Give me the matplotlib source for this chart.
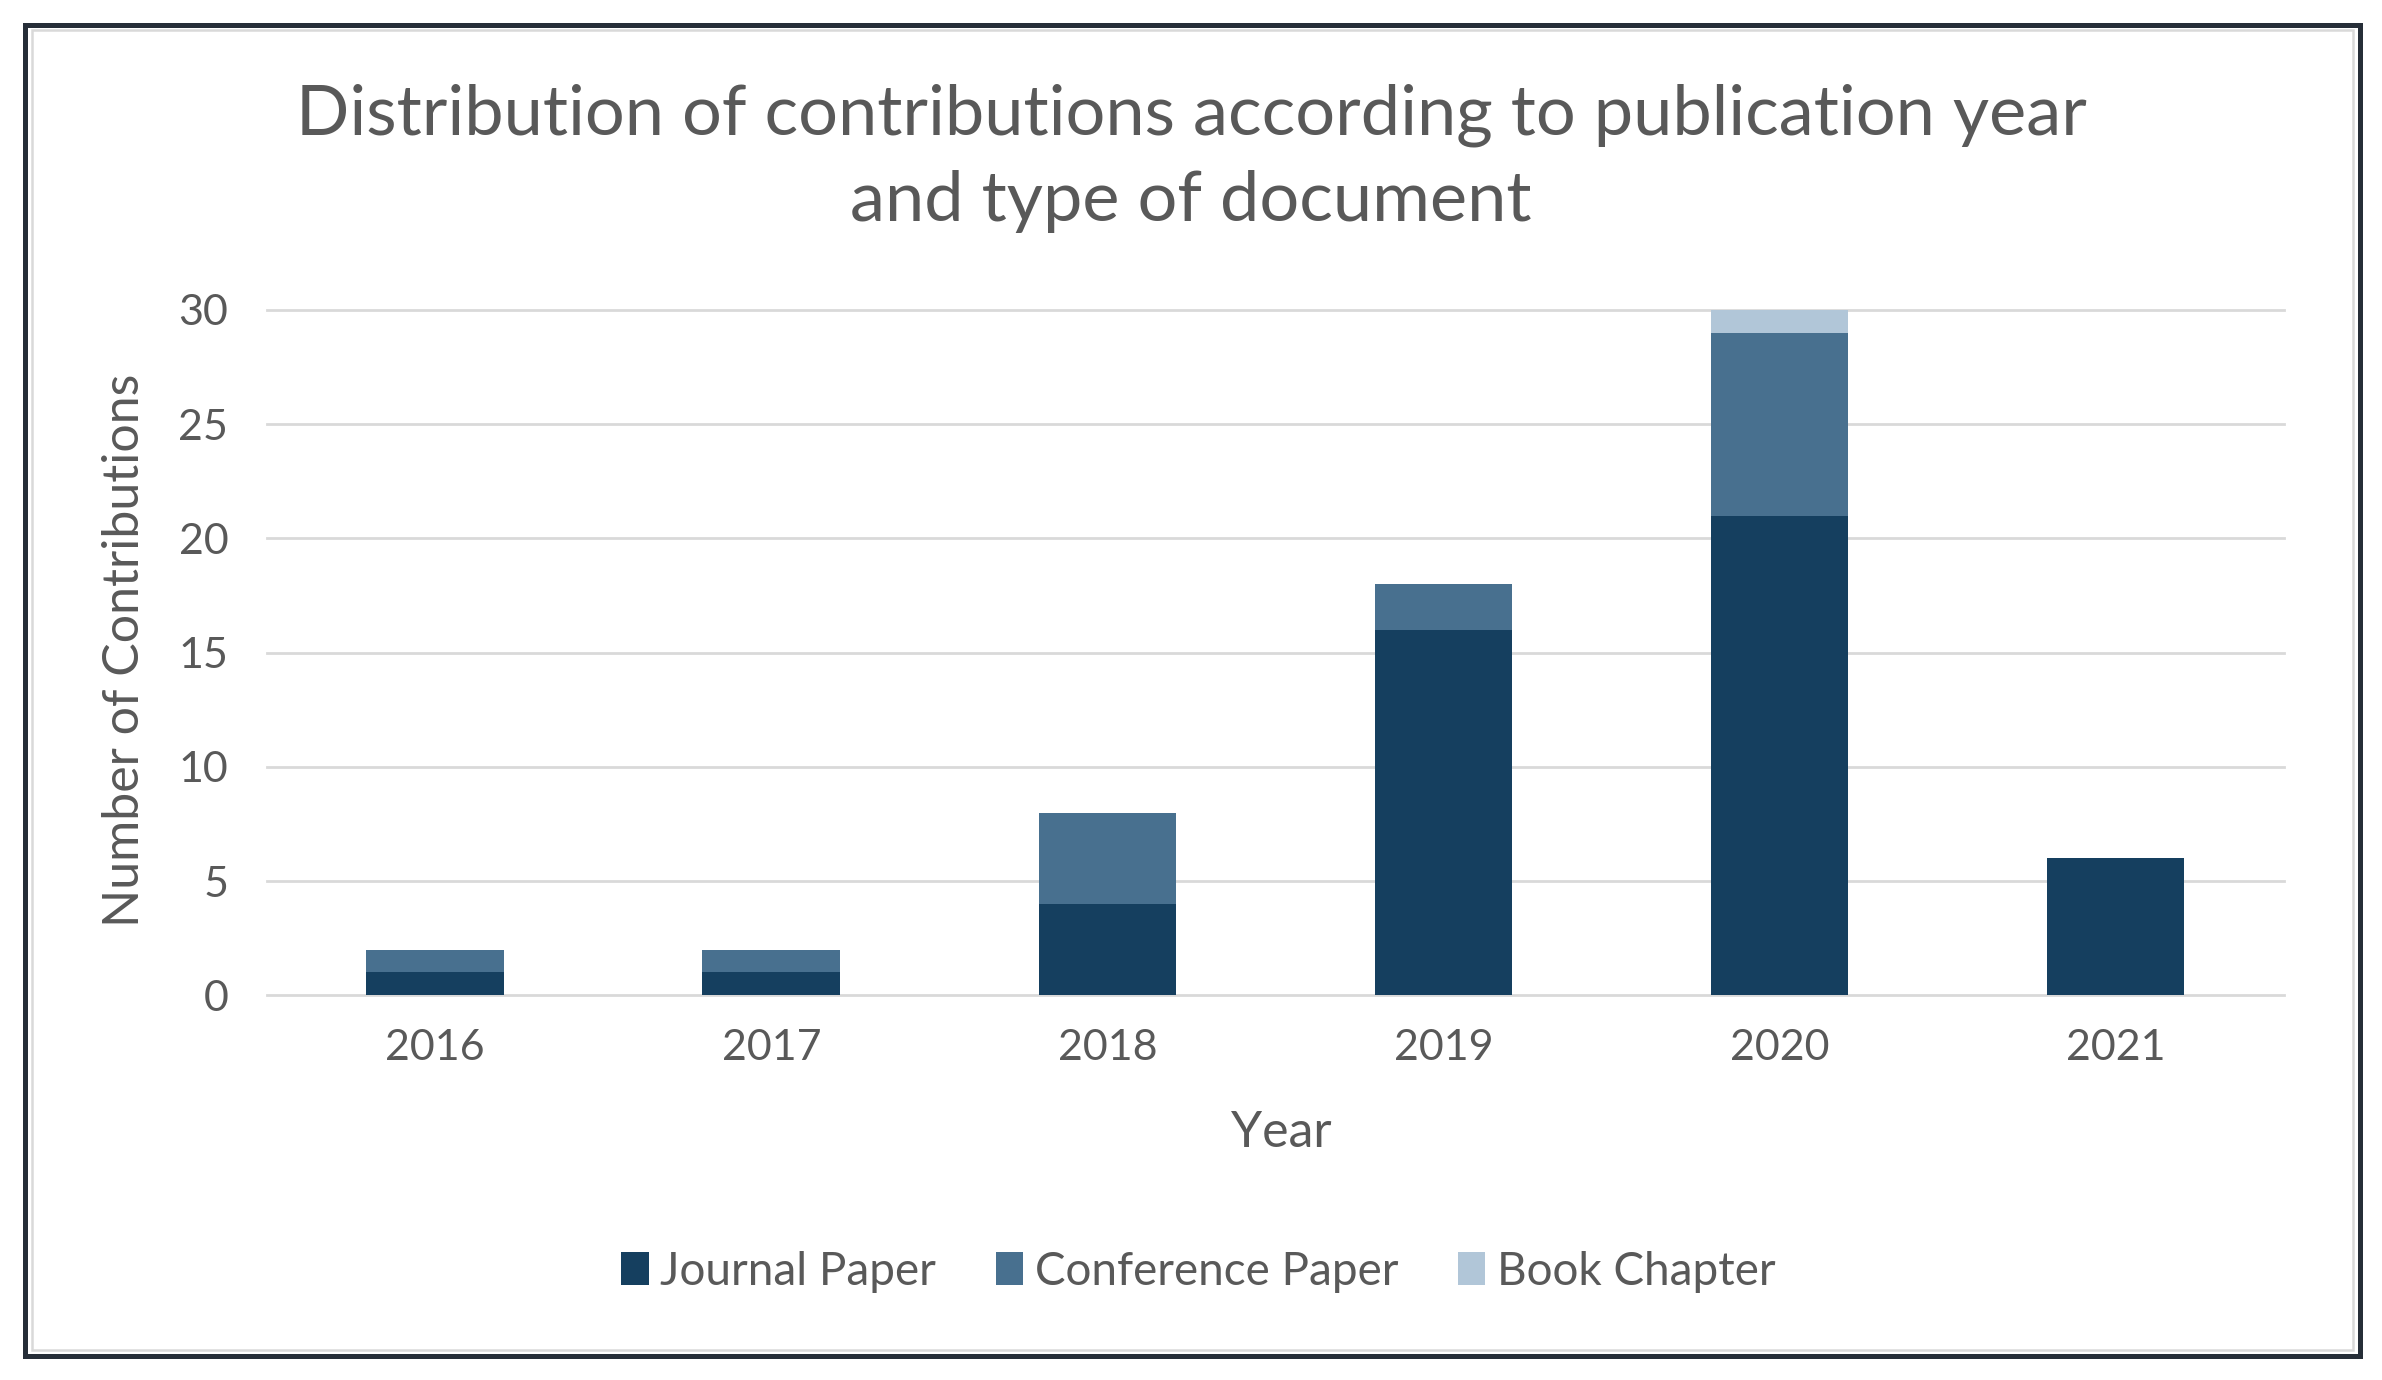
import matplotlib
matplotlib.use("Agg")
import matplotlib.pyplot as plt
from matplotlib.patches import Rectangle, Patch
import numpy as np

years = ["2016", "2017", "2018", "2019", "2020", "2021"]
journal = [1, 1, 4, 16, 21, 6]
conference = [1, 1, 4, 2, 8, 0]
book = [0, 0, 0, 0, 1, 0]
series_names = ["Journal Paper", "Conference Paper", "Book Chapter"]
colors = ["#153f5f", "#48708f", "#b1c6d8"]
yticks = [0, 5, 10, 15, 20, 25, 30]

plt.rcParams['font.family'] = ['Lato', 'DejaVu Sans']
txt = "#595959"

fig = plt.figure(figsize=(11.91, 6.9), dpi=200)
ax = fig.add_axes([0.1122, 0.2788, 0.8465, 0.4966])

x = np.arange(len(years))
w = 0.41
j = np.array(journal); c = np.array(conference); b = np.array(book)
ax.bar(x, j, w, color=colors[0], zorder=3)
ax.bar(x, c, w, bottom=j, color=colors[1], zorder=3)
ax.bar(x, b, w, bottom=j + c, color=colors[2], zorder=3)

ax.set_xlim(-0.5, len(years) - 0.5)
ax.set_ylim(0, 30)
ax.set_yticks(yticks)
ax.set_xticks(x)
ax.set_xticklabels(years)
ax.grid(axis='y', color='#d9d9d9', linewidth=1.0, zorder=0)
for g in ax.get_ygridlines():
    g.set_clip_on(False)
for s in ax.spines.values():
    s.set_visible(False)
ax.tick_params(axis='both', length=0, labelsize=15.5, colors=txt)
ax.tick_params(axis='x', pad=12)
ax.tick_params(axis='y', pad=14)

fig.text(0.5, 0.885, "Distribution of contributions according to publication year\nand type of document",
         ha='center', va='center', fontsize=25.3, color=txt, linespacing=1.45)
fig.text(0.0526, 0.529, "Number of Contributions", rotation=90, ha='center', va='center',
         fontsize=18, color=txt)
fig.text(0.538, 0.179, "Year", ha='center', va='center', fontsize=18, color=txt)

handles = [Patch(facecolor=col, label=n) for col, n in zip(colors, series_names)]
fig.legend(handles=handles, loc='center', bbox_to_anchor=(0.503, 0.0785), ncol=3,
           frameon=False, fontsize=16.5, labelcolor=txt, handlelength=0.6, handleheight=0.75,
           handletextpad=0.25, columnspacing=1.3)

fig.patches.append(Rectangle((0.0105, 0.0172), 0.9803, 0.9645, transform=fig.transFigure,
                             fill=False, edgecolor='#262e38', linewidth=1.8))
fig.patches.append(Rectangle((0.0135, 0.0215), 0.9745, 0.957, transform=fig.transFigure,
                             fill=False, edgecolor='#d9d9d9', linewidth=0.9))

fig.savefig("out.png", dpi=200, facecolor='white')
